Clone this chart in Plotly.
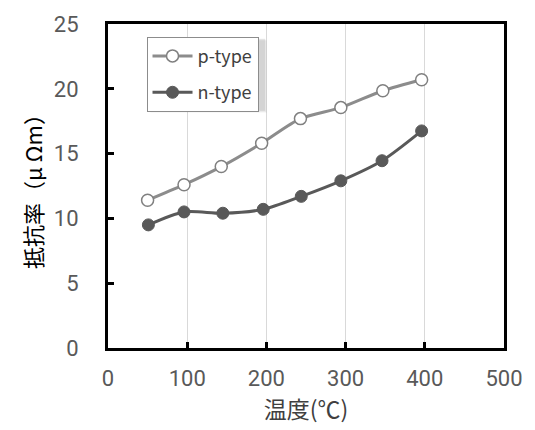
import plotly.graph_objects as go

temps_p = [50, 96, 143, 194, 243, 294, 347, 396]
res_p = [11.4, 12.6, 14.0, 15.8, 17.7, 18.55, 19.85, 20.7]
temps_n = [51, 96, 145, 196, 244, 294, 346, 396]
res_n = [9.5, 10.5, 10.4, 10.7, 11.7, 12.9, 14.45, 16.75]

x_ticks = [0, 100, 200, 300, 400, 500]
y_ticks = [0, 5, 10, 15, 20, 25]

FONT = "Roboto, 'Noto Sans CJK JP', sans-serif"
JP = "'Noto Sans CJK JP', sans-serif"

fig = go.Figure()
fig.add_trace(go.Scatter(
    x=temps_p, y=res_p, name="p-type", mode="lines+markers",
    legendgroup="p",
    line=dict(color="#8c8c8c", width=3, shape="spline", smoothing=0.8),
    marker=dict(size=12, color="white", line=dict(color="#808080", width=1.5)),
))
fig.add_trace(go.Scatter(
    x=temps_n, y=res_n, name="n-type", mode="lines+markers",
    legendgroup="n",
    line=dict(color="#595959", width=3, shape="spline", smoothing=0.8),
    marker=dict(size=12, color="#595959", line=dict(color="#595959", width=1)),
))

W, H = 535, 430
ml, mr, mt, mb = 108, 26, 16, 82
pw, ph = W - ml - mr, H - mt - mb

def px2paper(x, y):
    return (x - ml) / pw, (H - mb - y) / ph

LX0, LY0, LX1, LY1 = 147, 29, 265, 103
shadows = []
for off, op in [(4, 0.04), (3, 0.06), (2, 0.08)]:
    x0, y0 = px2paper(LX0 + off, LY0 + off)
    x1, y1 = px2paper(LX1 + off, LY1 + off)
    shadows.append(dict(type="rect", xref="paper", yref="paper",
                        x0=x0, y0=y1, x1=x1, y1=y0,
                        fillcolor=f"rgba(0,0,0,{op})", line=dict(width=0),
                        layer="above"))

lx, ly = px2paper(LX0, LY0)

fig.update_layout(
    width=W, height=H,
    margin=dict(l=ml, r=mr, t=mt, b=mb),
    paper_bgcolor="white", plot_bgcolor="white",
    font=dict(family=FONT, size=22, color="#595959"),
    showlegend=True,
    legend=dict(x=lx, y=ly, xanchor="left", yanchor="top",
                bgcolor="white", bordercolor="#8c8c8c", borderwidth=1,
                font=dict(family=JP, size=18, color="#404040"),
                tracegroupgap=10, itemwidth=40),
    shapes=shadows,
    xaxis=dict(range=[0, 500], tickvals=x_ticks, ticktext=[str(v) for v in x_ticks],
               showgrid=True, gridcolor="#d9d9d9", gridwidth=1,
               showline=True, linecolor="black", linewidth=3, mirror=True,
               ticks="inside", ticklen=6, tickwidth=3, tickcolor="black",
               zeroline=False, ticklabelstandoff=9,
               title=dict(text="温度(℃)", font=dict(family=JP, size=23, color="#404040"), standoff=5)),
    yaxis=dict(range=[0, 25], tickvals=y_ticks, ticktext=[str(v) for v in y_ticks],
               showgrid=False,
               showline=True, linecolor="black", linewidth=3, mirror=True,
               ticks="inside", ticklen=6, tickwidth=3, tickcolor="black",
               zeroline=False, ticklabelstandoff=22,
               title=dict(text="抵抗率（μ Ωm）", font=dict(family=JP, size=22, color="black"), standoff=6)),
)

fig.write_html("out.html", config={"displayModeBar": False},
               post_script="document.body.style.margin='0';")
